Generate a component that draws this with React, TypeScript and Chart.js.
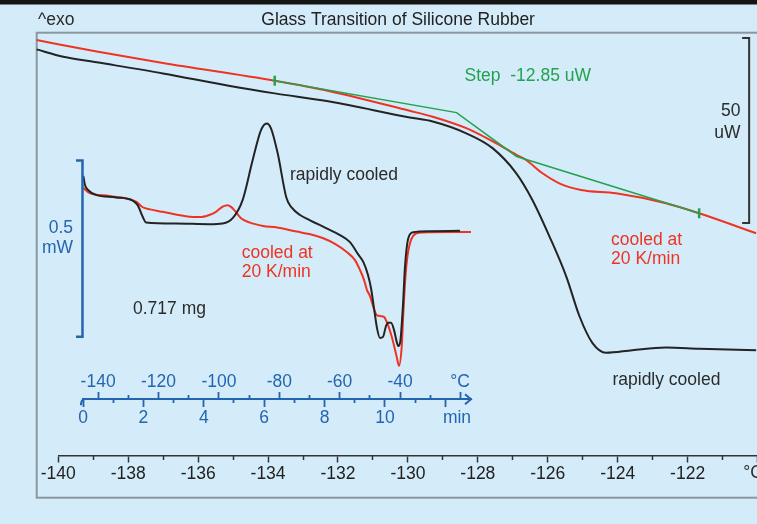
import React, { useEffect, useRef } from 'react';
import { Chart, registerables } from 'chart.js';

Chart.register(...registerables);

// ---------- Main DSC curves (x: temperature °C, y: heat flow µW) ----------
const mainTempBlack = [-140.62, -139.86, -138.90, -137.01, -135.09, -133.81, -132.24, -129.95, -129.29, -128.33, -127.58, -126.90, -126.44, -125.95, -125.47, -125.09, -124.72, -124.33, -123.58, -122.62, -121.67, -120.04];
const mainHeatBlack = [109.9, 107.9, 106.4, 103.4, 100.0, 98.0, 95.8, 91.5, 90.4, 87.2, 83.2, 76.4, 69.2, 59.3, 48.5, 37.7, 30.5, 27.9, 28.6, 29.3, 29.0, 28.6];

const mainTempRed = [-140.62, -138.90, -137.01, -133.81, -132.24, -129.95, -129.29, -128.33, -127.47, -126.90, -126.62, -126.15, -125.67, -125.05, -124.05, -122.62, -121.67, -120.04];
const mainHeatRed = [112.4, 109.3, 106.2, 101.4, 98.6, 93.3, 91.7, 88.6, 84.5, 81.4, 80.0, 76.4, 73.7, 71.9, 71.0, 68.3, 65.6, 60.2];

// Step evaluation construction (baselines + inflection tangent)
const stepTemp = [-133.81, -128.61, -126.89, -121.67];
const stepHeat = [101.43, 92.81, 80.95, 65.59];

const mainMajorTicks = [-140, -138, -136, -134, -132, -130, -128, -126, -124, -122, -120];
const mainMinorTicks = [-139, -137, -135, -133, -131, -129, -127, -125, -123, -121];

// ---------- Inset curves (x: temperature °C, y: heat flow mW) ----------
const insetTempBlack = [-144.90, -144.34, -143.34, -140.70, -134.07, -128.54, -126.89, -125.23, -124.14, -114.21, -103.18, -98.74, -95.43, -92.12, -88.81, -86.06, -84.17, -82.75, -80.53, -77.62, -75.79, -73.15, -69.83, -64.54, -59.90, -56.59, -53.94, -52.19, -50.63, -49.64, -48.64, -47.65, -46.66, -45.66, -44.67, -43.91, -43.01, -42.02, -41.03, -40.53, -39.87, -39.04, -38.38, -37.28, -35.63, -30.10, -20.17];
const insetHeatBlack = [0.634, 0.608, 0.594, 0.580, 0.573, 0.564, 0.551, 0.518, 0.502, 0.499, 0.497, 0.499, 0.514, 0.566, 0.679, 0.764, 0.783, 0.769, 0.698, 0.571, 0.543, 0.523, 0.508, 0.486, 0.466, 0.446, 0.412, 0.390, 0.353, 0.316, 0.259, 0.202, 0.174, 0.177, 0.208, 0.217, 0.217, 0.197, 0.160, 0.151, 0.168, 0.268, 0.376, 0.457, 0.474, 0.477, 0.478];

const insetTempRed = [-144.90, -142.91, -136.29, -127.45, -125.23, -122.81, -118.61, -109.80, -106.26, -103.18, -100.96, -98.74, -97.09, -95.99, -94.90, -92.68, -89.93, -85.30, -81.09, -74.24, -70.07, -65.43, -61.56, -57.68, -54.93, -53.28, -51.95, -50.96, -49.97, -48.97, -48.31, -47.65, -46.33, -45.33, -44.24, -42.78, -41.13, -40.36, -39.47, -39.04, -38.38, -37.72, -36.72, -34.50, -30.10, -16.52];
const insetHeatRed = [0.600, 0.586, 0.577, 0.561, 0.545, 0.539, 0.532, 0.518, 0.517, 0.523, 0.532, 0.547, 0.551, 0.546, 0.537, 0.514, 0.502, 0.492, 0.488, 0.476, 0.469, 0.457, 0.441, 0.418, 0.395, 0.367, 0.339, 0.310, 0.293, 0.265, 0.248, 0.238, 0.236, 0.234, 0.216, 0.178, 0.121, 0.095, 0.149, 0.225, 0.329, 0.395, 0.443, 0.471, 0.474, 0.475];

const insetTempMajor = [-140, -120, -100, -80, -60, -40, -20];
const insetTempMinor = [-130, -110, -90, -70, -50, -30];
const insetTimeMajor = [0, 2, 4, 6, 8, 10, 12];
const insetTimeMinor = [1, 3, 5, 7, 9, 11];

// ---------- styling ----------
const FONT = '"Liberation Sans", Arial, Helvetica, sans-serif';
const FS = 17.5;
const DARK = '#2b2b2b';
const RED = '#ef3322';
const GREEN = '#23a24e';
const BLUE = '#2465b0';
const BG = '#d4ecf9';

const zip = (xs: number[], ys: number[]) => xs.slice(0, Math.min(xs.length, ys.length)).map((x, i) => ({ x, y: ys[i] }));

type Note = { text: string; x: number; y: number; color: string; align?: CanvasTextAlign };
type Bar = { x: number; y0: number; y1: number; len: number; color: string; width: number };

const mainNotes: Note[] = [
  { text: 'Glass Transition of Silicone Rubber', x: -130.28, y: 117.8, color: '#222', align: 'center' },
  { text: '^exo', x: -140.58, y: 117.8, color: DARK },
  { text: 'Step  -12.85 uW', x: -128.38, y: 102.6, color: GREEN },
  { text: '50', x: -120.49, y: 93.1, color: DARK, align: 'right' },
  { text: 'uW', x: -120.49, y: 87.2, color: DARK, align: 'right' },
  { text: 'cooled at', x: -124.19, y: 58.4, color: RED },
  { text: '20 K/min', x: -124.19, y: 53.2, color: RED },
  { text: 'rapidly cooled', x: -124.15, y: 20.5, color: DARK },
  { text: '°C', x: -120.41, y: -4.6, color: DARK },
];
const mainBars: Bar[] = [{ x: -120.24, y0: 62.97, y1: 112.97, len: 7, color: '#333', width: 2 }];

const insetNotes: Note[] = [
  { text: 'rapidly cooled', x: -76.46, y: 0.6365, color: DARK },
  { text: 'cooled at', x: -92.45, y: 0.4137, color: RED },
  { text: '20 K/min', x: -92.45, y: 0.3612, color: RED },
  { text: '0.717 mg', x: -128.44, y: 0.2548, color: DARK },
  { text: '0.5', x: -148.31, y: 0.4847, color: BLUE, align: 'right' },
  { text: 'mW', x: -148.31, y: 0.4279, color: BLUE, align: 'right' },
  { text: '°C', x: -20.17, y: 0.0499, color: BLUE, align: 'center' },
  { text: 'min', x: -21.16, y: -0.0539, color: BLUE, align: 'center' },
];
const insetBars: Bar[] = [{ x: -145.17, y0: 0.1776, y1: 0.6776, len: 6.5, color: BLUE, width: 2.5 }];

function notesPlugin(id: string, notes: Note[], bars: Bar[]) {
  return {
    id,
    afterDraw(chart: any) {
      const { ctx } = chart;
      const xs = chart.scales.x;
      const ys = chart.scales.y;
      ctx.save();
      for (const b of bars) {
        const px = xs.getPixelForValue(b.x);
        const p0 = ys.getPixelForValue(b.y0);
        const p1 = ys.getPixelForValue(b.y1);
        ctx.strokeStyle = b.color;
        ctx.lineWidth = b.width;
        ctx.beginPath();
        ctx.moveTo(px - b.len, p1);
        ctx.lineTo(px, p1);
        ctx.lineTo(px, p0);
        ctx.lineTo(px - b.len, p0);
        ctx.stroke();
      }
      ctx.font = `${FS}px ${FONT}`;
      ctx.textBaseline = 'middle';
      for (const n of notes) {
        ctx.fillStyle = n.color;
        ctx.textAlign = n.align || 'left';
        ctx.fillText(n.text, xs.getPixelForValue(n.x), ys.getPixelForValue(n.y));
      }
      ctx.restore();
    },
  };
}

const framePlugin = {
  id: 'frame',
  beforeDraw(chart: any) {
    const { ctx } = chart;
    ctx.save();
    ctx.fillStyle = '#151515';
    ctx.fillRect(0, 0, chart.width, 4.5);
    ctx.strokeStyle = '#8a979f';
    ctx.lineWidth = 2;
    ctx.strokeRect(36.7, 32.7, 820, 465);
    ctx.restore();
  },
};

// small hook at the start and arrow at the end of the inset axis line
const insetAxisEnds = {
  id: 'insetAxisEnds',
  afterDraw(chart: any) {
    const { ctx, chartArea } = chart;
    const y = chart.scales.y.getPixelForValue(0);
    ctx.save();
    ctx.strokeStyle = BLUE;
    ctx.lineWidth = 2;
    ctx.beginPath();
    ctx.moveTo(chartArea.left + 1, y);
    ctx.quadraticCurveTo(chartArea.left - 2, y + 1, chartArea.left - 2, y + 6);
    ctx.moveTo(chartArea.right - 6, y - 5);
    ctx.lineTo(chartArea.right, y);
    ctx.lineTo(chartArea.right - 6, y + 5);
    ctx.stroke();
    ctx.restore();
  },
};

const setTicks = (vals: number[]) => (scale: any) => {
  scale.ticks = vals.map((v) => ({ value: v }));
};

export default function App() {
  const mainRef = useRef<HTMLCanvasElement>(null);
  const insetRef = useRef<HTMLCanvasElement>(null);

  useEffect(() => {
    Chart.defaults.font.family = FONT;
    const tickFont = { size: FS, family: FONT };

    const main = new Chart(mainRef.current as HTMLCanvasElement, {
      type: 'line',
      data: {
        datasets: [
          {
            label: 'Step',
            data: zip(stepTemp, stepHeat),
            borderColor: GREEN,
            borderWidth: 1.5,
            pointRadius: [5, 0, 0, 5],
            pointStyle: 'line',
            rotation: 90,
            pointBorderWidth: 2.5,
            pointBorderColor: GREEN,
            tension: 0,
            clip: false,
          } as any,
          {
            label: 'rapidly cooled',
            data: zip(mainTempBlack, mainHeatBlack),
            borderColor: '#232323',
            borderWidth: 2,
            pointRadius: 0,
            cubicInterpolationMode: 'monotone',
            clip: false,
          } as any,
          {
            label: 'cooled at 20 K/min',
            data: zip(mainTempRed, mainHeatRed),
            borderColor: RED,
            borderWidth: 2,
            pointRadius: 0,
            cubicInterpolationMode: 'monotone',
            clip: false,
          } as any,
        ],
      },
      options: {
        responsive: false,
        animation: false,
        events: [],
        layout: { padding: { left: 58.3, right: 6.7, top: 32.7, bottom: 68 } },
        plugins: {
          legend: { display: false },
          tooltip: { enabled: false },
          title: { display: false },
        },
        scales: {
          y: { type: 'linear', min: 0, max: 114.4, display: false },
          x: {
            type: 'linear',
            min: -140,
            max: -119,
            position: { y: 0 } as any,
            afterBuildTicks: setTicks(mainMajorTicks),
            grid: { drawOnChartArea: false, drawTicks: true, tickLength: 6, tickColor: '#333', tickWidth: 1.5 },
            border: { display: true, color: '#333', width: 1.5 },
            ticks: {
              autoSkip: false,
              maxRotation: 0,
              padding: 1.5,
              color: '#222',
              font: tickFont,
              callback: (v: any) => (Number(v) === -120 ? '' : String(v)),
            },
          } as any,
          xm: {
            type: 'linear',
            axis: 'x',
            min: -140,
            max: -119,
            position: { y: 0 } as any,
            afterBuildTicks: setTicks(mainMinorTicks),
            grid: { drawOnChartArea: false, drawTicks: true, tickLength: 4, tickColor: '#333', tickWidth: 1.5 },
            border: { display: false },
            ticks: { display: false, autoSkip: false },
          } as any,
        },
      },
      plugins: [framePlugin, notesPlugin('mainNotes', mainNotes, mainBars)],
    } as any);

    const tMin = -145;
    const tMax = -16.52;
    const mMin = (tMin + 145) / 10;
    const mMax = (tMax + 145) / 10;

    const inset = new Chart(insetRef.current as HTMLCanvasElement, {
      type: 'line',
      data: {
        datasets: [
          {
            label: 'rapidly cooled',
            data: zip(insetTempBlack, insetHeatBlack),
            borderColor: '#232323',
            borderWidth: 2,
            pointRadius: 0,
            cubicInterpolationMode: 'monotone',
            clip: false,
          } as any,
          {
            label: 'cooled at 20 K/min',
            data: zip(insetTempRed, insetHeatRed),
            borderColor: RED,
            borderWidth: 2,
            pointRadius: 0,
            cubicInterpolationMode: 'monotone',
            clip: false,
          } as any,
        ],
      },
      options: {
        responsive: false,
        animation: false,
        events: [],
        layout: { padding: { left: 83, right: 286, top: 115, bottom: 124.7 } },
        plugins: { legend: { display: false }, tooltip: { enabled: false }, title: { display: false } },
        scales: {
          y: { type: 'linear', min: 0, max: 0.8068, display: false },
          x: {
            type: 'linear',
            min: tMin,
            max: tMax,
            position: { y: 0 } as any,
            afterBuildTicks: setTicks(insetTempMajor),
            grid: { drawOnChartArea: false, drawTicks: true, tickLength: -7, tickColor: BLUE, tickWidth: 1.8 },
            border: { display: false },
            ticks: {
              autoSkip: false,
              maxRotation: 0,
              padding: -21.1,
              color: BLUE,
              font: tickFont,
              callback: (v: any) => (Number(v) === -20 ? '' : String(v)),
            },
          } as any,
          xTm: {
            type: 'linear',
            axis: 'x',
            min: tMin,
            max: tMax,
            position: { y: 0 } as any,
            afterBuildTicks: setTicks(insetTempMinor),
            grid: { drawOnChartArea: false, drawTicks: true, tickLength: -4, tickColor: BLUE, tickWidth: 1.8 },
            border: { display: false },
            ticks: { display: false, autoSkip: false },
          } as any,
          time: {
            type: 'linear',
            axis: 'x',
            min: mMin,
            max: mMax,
            position: { y: 0 } as any,
            afterBuildTicks: setTicks(insetTimeMajor),
            grid: { drawOnChartArea: false, drawTicks: true, tickLength: 7, tickColor: BLUE, tickWidth: 1.8 },
            border: { display: true, color: BLUE, width: 2 },
            ticks: {
              autoSkip: false,
              maxRotation: 0,
              padding: 1.5,
              color: BLUE,
              font: tickFont,
              callback: (v: any) => (Number(v) === 12 ? '' : String(v)),
            },
          } as any,
          timeMinor: {
            type: 'linear',
            axis: 'x',
            min: mMin,
            max: mMax,
            position: { y: 0 } as any,
            afterBuildTicks: setTicks(insetTimeMinor),
            grid: { drawOnChartArea: false, drawTicks: true, tickLength: 4, tickColor: BLUE, tickWidth: 1.8 },
            border: { display: false },
            ticks: { display: false, autoSkip: false },
          } as any,
        },
      },
      plugins: [insetAxisEnds, notesPlugin('insetNotes', insetNotes, insetBars)],
    } as any);

    return () => {
      main.destroy();
      inset.destroy();
    };
  }, []);

  return (
    <div style={{ position: 'fixed', left: 0, top: 0, width: 757, height: 524, overflow: 'hidden', background: BG }}>
      <canvas ref={mainRef} width={800} height={524} style={{ position: 'absolute', left: 0, top: 0 }} />
      <canvas ref={insetRef} width={757} height={524} style={{ position: 'absolute', left: 0, top: 0 }} />
    </div>
  );
}
